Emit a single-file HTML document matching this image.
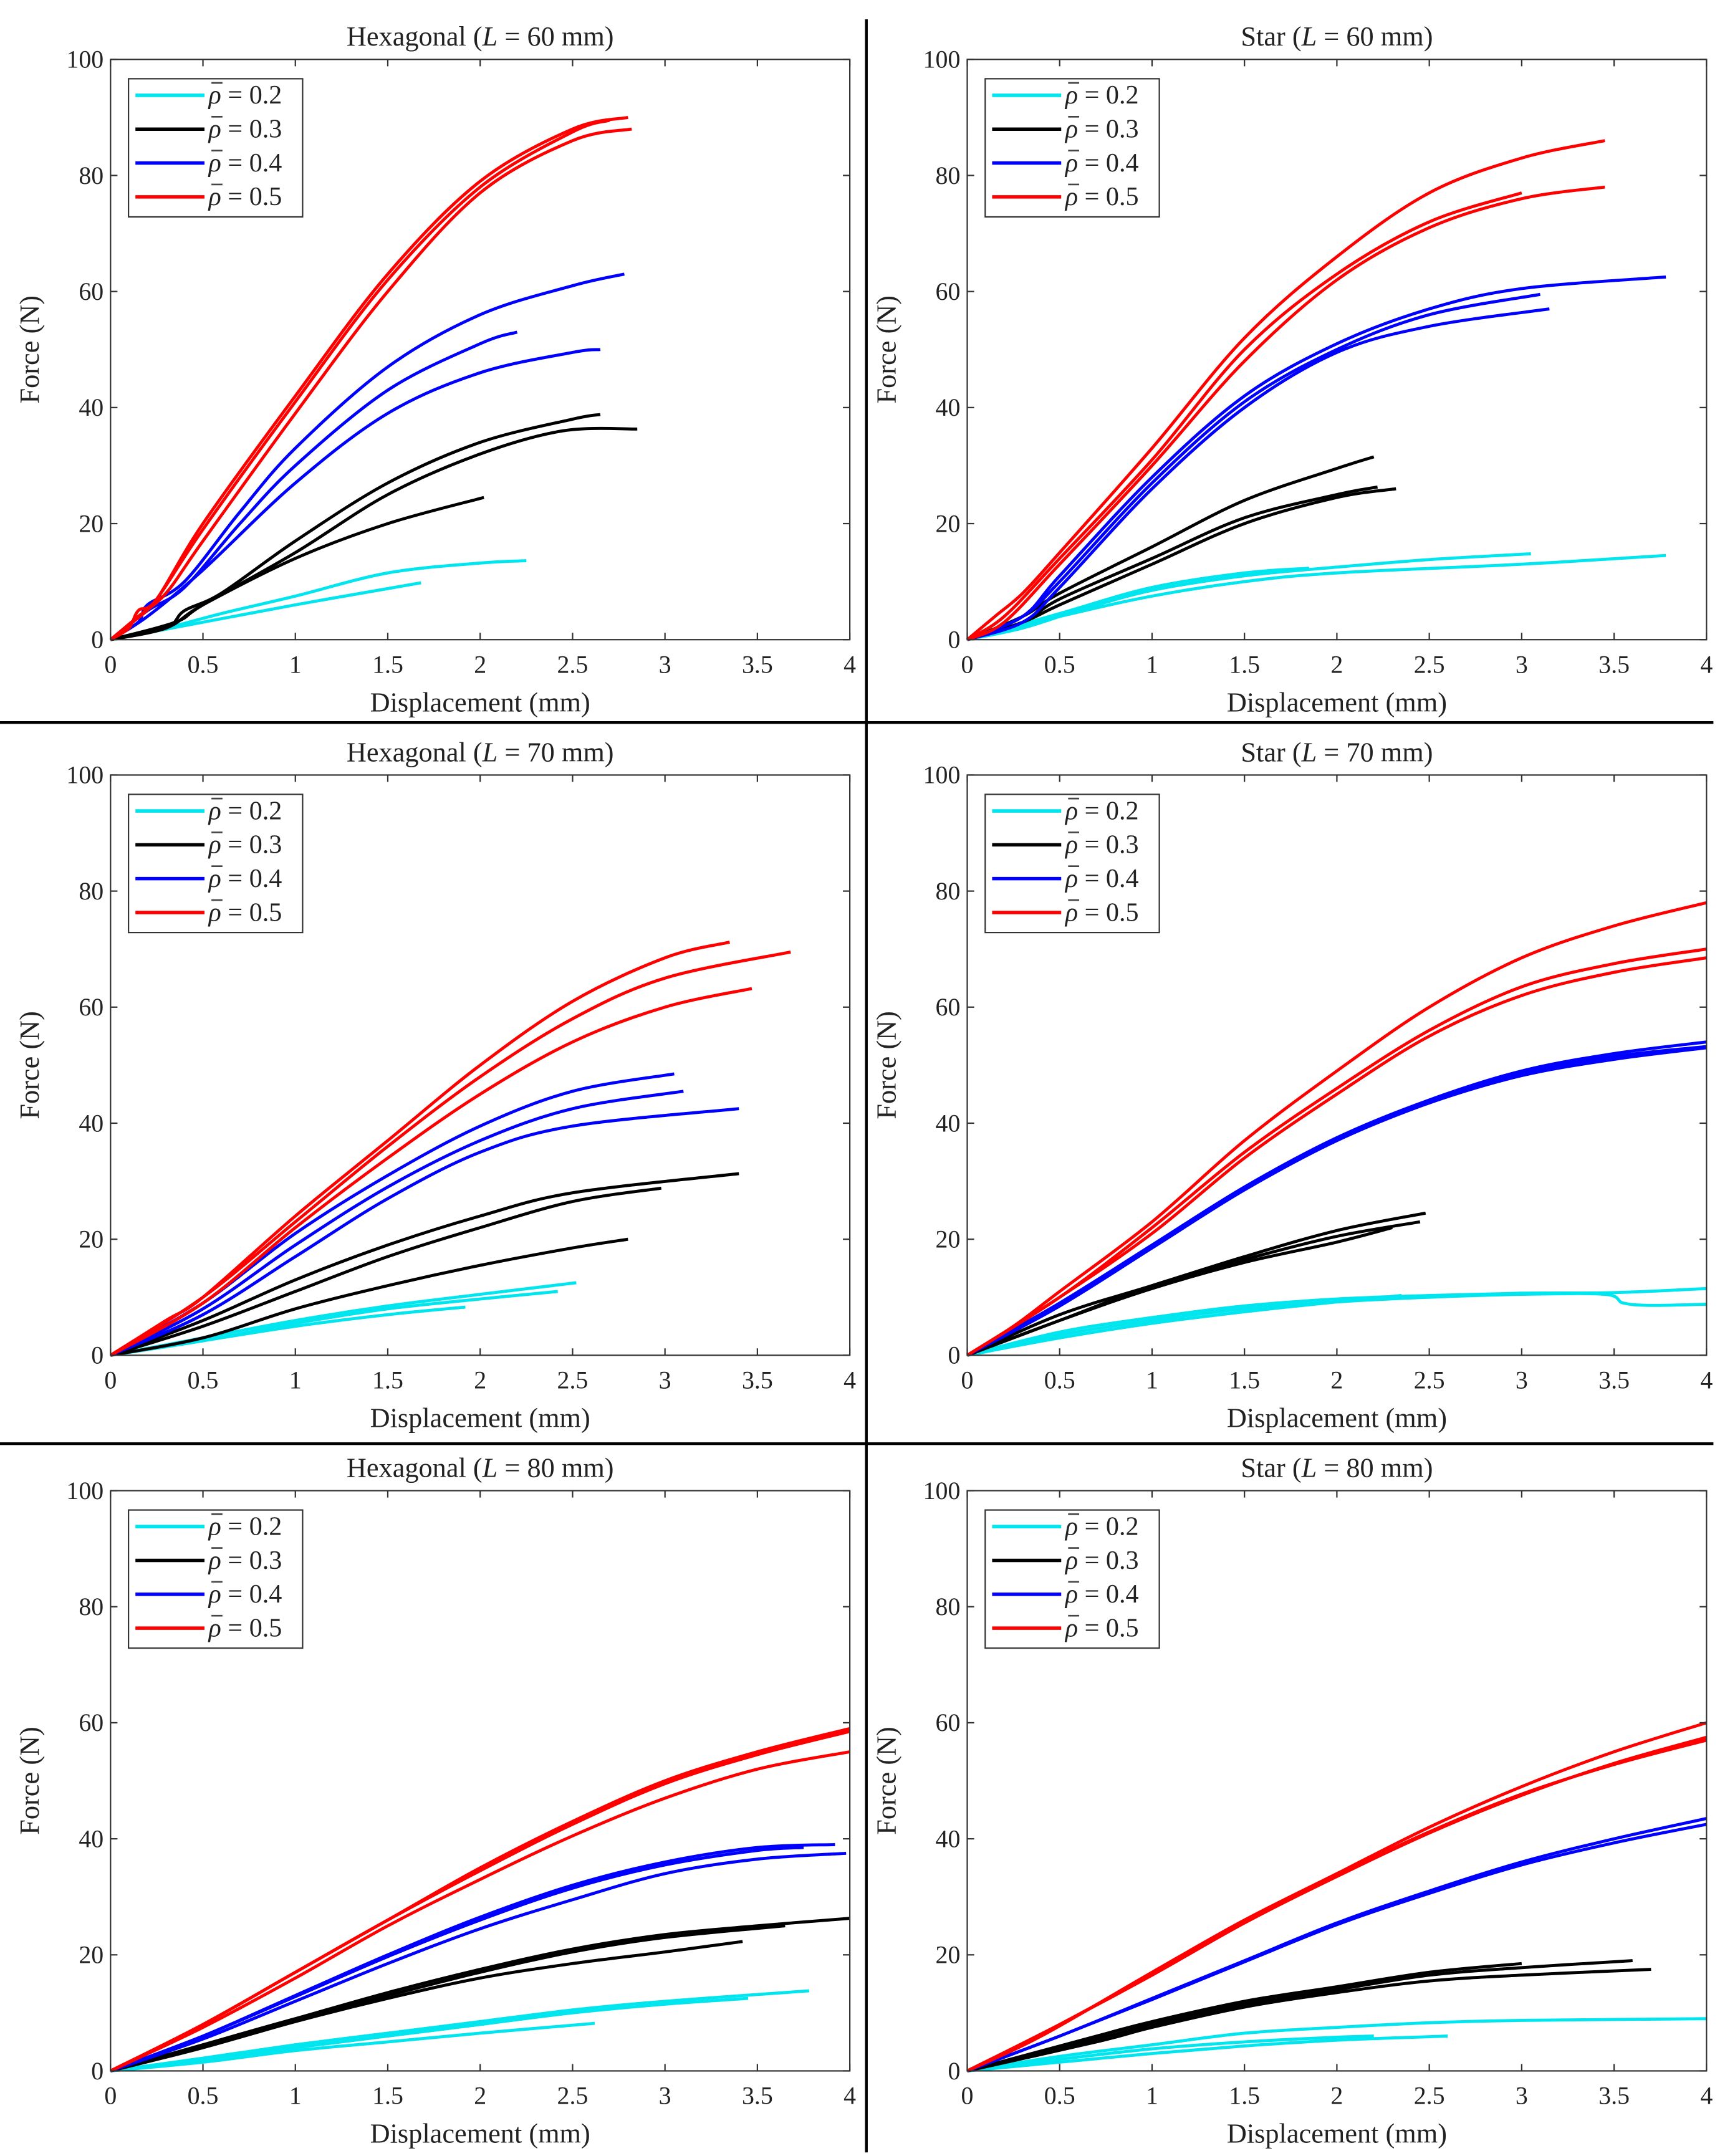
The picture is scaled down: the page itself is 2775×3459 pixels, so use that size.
<!DOCTYPE html>
<html><head><meta charset="utf-8">
<style>
html,body{margin:0;padding:0;background:#fff;}
svg{display:block;}
text{font-family:"Liberation Serif","DejaVu Serif",serif;fill:#222;}
</style></head>
<body>
<svg id="fig" width="2775" height="3459" viewBox="0 0 1252 1560.6" preserveAspectRatio="none" xmlns="http://www.w3.org/2000/svg">
<rect width="1252" height="1560.6" fill="#fff"/>
<line x1="627" y1="14" x2="627" y2="1558" stroke="#000" stroke-width="2"/>
<line x1="0" y1="523" x2="1240" y2="523" stroke="#000" stroke-width="2"/>
<line x1="0" y1="1045" x2="1240" y2="1045" stroke="#000" stroke-width="2"/>
</svg>
<script>
const xTicks = [0,0.5,1,1.5,2,2.5,3,3.5,4];
const xTickLabels = ["0","0.5","1","1.5","2","2.5","3","3.5","4"];
const yTicks = [0,20,40,60,80,100];
const yTickLabels = ["0","20","40","60","80","100"];
const seriesNames = ["0.2","0.3","0.4","0.5"];
const seriesColors = ["#00e5ee","#000000","#0000ff","#ff0000"];
const panelTitles = ["Hexagonal","Star","Hexagonal","Star","Hexagonal","Star"];
const panelLengths = ["60","60","70","70","80","80"];

const hex60 = [
 [[[0,0],[0.3,2],[0.6,4.5],[1,7.5],[1.5,11.5],[2,13.2],[2.25,13.6]],
  [[0,0],[0.5,3],[1,6],[1.5,8.8],[1.68,9.8]]],
 [[[0,0],[0.3,2],[0.4,5],[0.6,8],[1,17],[1.5,27],[2,34],[2.5,38],[2.65,38.8]],
  [[0,0],[0.35,3],[0.5,6],[1,15],[1.5,25],[2,32],[2.45,36],[2.85,36.3]],
  [[0,0],[0.3,2],[0.5,6],[1,14],[1.5,20],[2.02,24.5]]],
 [[[0,0],[0.15,3],[0.2,6],[0.4,10],[0.7,22],[1,33],[1.5,47],[2,56],[2.5,61],[2.78,63]],
  [[0,0],[0.2,5],[0.4,9],[0.7,20],[1,30],[1.5,43],[2,51],[2.2,53]],
  [[0,0],[0.2,4],[0.5,12],[1,27],[1.5,39],[2,46],[2.5,49.5],[2.65,50]]],
 [[[0,0],[0.1,2],[0.15,5],[0.25,7],[0.5,20],[1,42],[1.5,63],[2,79],[2.5,88],[2.8,90]],
  [[0,0],[0.12,3],[0.25,7],[0.5,19],[1,41],[1.5,62],[2,78],[2.5,87.5],[2.7,89.5]],
  [[0,0],[0.15,4],[0.3,8],[0.5,17],[1,39],[1.5,60],[2,77],[2.5,86],[2.82,88]]]
];
const star60 = [
 [[[0,0],[0.3,2],[0.6,5],[1,8.5],[1.5,11],[2,12.5],[2.5,13.8],[3.05,14.8]],
  [[0,0],[0.5,4],[1,7.5],[1.5,10],[2,11.5],[3,13],[3.78,14.5]],
  [[0,0],[0.5,4.5],[1,9],[1.5,11.5],[1.85,12.3]]],
 [[[0,0],[0.3,4],[0.5,8],[1,16],[1.5,24],[2,29.5],[2.2,31.5]],
  [[0,0],[0.3,3],[0.5,7],[1,14],[1.5,21],[2,25],[2.22,26.3]],
  [[0,0],[0.3,3],[0.5,6],[1,13],[1.5,20],[2,24.5],[2.32,26]]],
 [[[0,0],[0.3,4],[0.5,11],[1,28],[1.5,42],[2,51],[2.5,57],[3,60.5],[3.78,62.5]],
  [[0,0],[0.3,4],[0.5,10],[1,27],[1.5,41],[2,50],[2.5,56],[3.1,59.5]],
  [[0,0],[0.3,3],[0.5,9],[1,26],[1.5,40],[2,49.5],[2.5,54],[3.15,57]]],
 [[[0,0],[0.15,4],[0.3,8],[0.5,15],[1,33],[1.5,52],[2,66],[2.5,77],[3,83],[3.45,86]],
  [[0,0],[0.2,4],[0.5,14],[1,31],[1.5,50],[2,63],[2.5,72],[3,77]],
  [[0,0],[0.2,3],[0.5,13],[1,30],[1.5,48],[2,62],[2.5,71],[3,76],[3.45,78]]]
];
const hex70 = [
 [[[0,0],[0.5,3],[1,6],[1.5,8.5],[2,10.5],[2.52,12.5]],
  [[0,0],[0.5,2.5],[1,5.5],[1.5,8],[2,9.7],[2.42,11]],
  [[0,0],[0.5,2.5],[1,5],[1.5,7],[1.92,8.3]]],
 [[[0,0],[0.5,6],[1,13],[1.5,19],[2,24],[2.5,28],[3.4,31.3]],
  [[0,0],[0.5,5],[1,11],[1.5,17],[2,22],[2.5,26.5],[2.98,28.8]],
  [[0,0],[0.5,3],[1,8],[1.5,12],[2,15.5],[2.5,18.5],[2.8,20]]],
 [[[0,0],[0.5,9],[1,21],[1.5,31],[2,39.5],[2.5,45.5],[3.05,48.5]],
  [[0,0],[0.5,8],[1,19],[1.5,29],[2,37],[2.5,42.5],[3.1,45.5]],
  [[0,0],[0.5,7],[1,17],[1.5,27],[2,35],[2.5,39.5],[3.4,42.5]]],
 [[[0,0],[0.3,6],[0.5,10],[1,24],[1.5,37],[2,50],[2.5,61],[3,68.5],[3.35,71.2]],
  [[0,0],[0.5,10],[1,23],[1.5,36],[2,48],[2.5,58],[3,65],[3.68,69.5]],
  [[0,0],[0.5,9],[1,22],[1.5,34],[2,45],[2.5,54],[3,60],[3.47,63.2]]]
];
const star70 = [
 [[[0,0],[0.5,4],[1,6.5],[1.5,8.5],[2,9.7],[2.5,10.3],[3,10.7],[3.5,10.8],[4,11.5]],
  [[0,0],[0.5,3.5],[1,6],[1.5,8],[2,9.2],[2.5,10],[3,10.5],[3.45,10.5],[3.55,9],[3.7,8.6],[4,8.8]],
  [[0,0],[0.5,3],[1,5.5],[1.5,7.5],[2,9.2],[2.35,10.3]]],
 [[[0,0],[0.5,7],[1,12],[1.5,17],[2,21.5],[2.48,24.5]],
  [[0,0],[0.5,6],[1,12],[1.5,16.5],[2,20.5],[2.45,23]],
  [[0,0],[0.5,6],[1,11.5],[1.5,16],[2,19.5],[2.3,22]]],
 [[[0,0],[0.5,9],[1,19],[1.5,29],[2,37.5],[2.5,44],[3,49],[3.5,52],[4,54]],
  [[0,0],[0.5,8.5],[1,18.5],[1.5,28.5],[2,37],[2.5,43.5],[3,48.5],[3.5,51.5],[4,53.2]],
  [[0,0],[0.5,8.5],[1,18.8],[1.5,28.8],[2,37.2],[2.5,43.5],[3,48.2],[3.5,51],[4,53]]],
 [[[0,0],[0.25,5],[0.5,11],[1,23],[1.5,37],[2,49],[2.5,60],[3,68.5],[3.5,74],[4,78]],
  [[0,0],[0.5,10],[1,22],[1.5,35],[2,46],[2.5,56],[3,63.5],[3.5,67.5],[4,70]],
  [[0,0],[0.5,10],[1,21],[1.5,34],[2,45],[2.5,55],[3,62],[3.5,66],[4,68.5]]]
];
const hex80 = [
 [[[0,0],[0.5,2.2],[1,4.5],[1.5,6.5],[2,8.5],[2.5,10.5],[3,12],[3.78,13.8]],
  [[0,0],[0.5,2],[1,4],[1.5,6],[2,8],[2.5,10],[3,11.5],[3.45,12.5]],
  [[0,0],[0.5,1.5],[1,3.5],[1.5,5],[2,6.5],[2.62,8.2]]],
 [[[0,0],[0.5,4.5],[1,9],[1.5,13.5],[2,17.5],[2.5,21],[3,23.5],[3.5,25],[4,26.3]],
  [[0,0],[0.5,4.5],[1,9],[1.5,13],[2,17],[2.5,20.5],[3,23],[3.65,25]],
  [[0,0],[0.5,4],[1,8.5],[1.5,12.5],[2,16],[2.5,18.5],[3,20.5],[3.42,22.3]]],
 [[[0,0],[0.5,6],[1,13],[1.5,20],[2,26.5],[2.5,32],[3,36],[3.5,38.5],[3.92,39]],
  [[0,0],[0.5,6],[1,12.8],[1.5,19.7],[2,26],[2.5,31.5],[3,35.5],[3.5,38],[3.75,38.5]],
  [[0,0],[0.5,5.5],[1,12],[1.5,18.5],[2,24.5],[2.5,29.5],[3,34],[3.5,36.5],[3.98,37.5]]],
 [[[0,0],[0.5,8],[1,17],[1.5,26],[2,35],[2.5,43],[3,50],[3.5,55],[4,59]],
  [[0,0],[0.5,8],[1,17],[1.5,26],[2,34.5],[2.5,42.5],[3,49.5],[3.5,54.5],[4,58.5]],
  [[0,0],[0.5,7.5],[1,16],[1.5,25],[2,33],[2.5,40.5],[3,47],[3.5,52],[4,55]]]
];
const star80 = [
 [[[0,0],[0.5,2.5],[1,4.5],[1.5,6.5],[2,7.5],[2.5,8.3],[3,8.7],[4,9]],
  [[0,0],[0.5,1.5],[1,3],[1.5,4.3],[2,5.3],[2.6,6]],
  [[0,0],[0.5,2],[1,3.8],[1.5,5],[2,5.8],[2.2,6]]],
 [[[0,0],[0.7,6],[1,8.5],[1.5,12],[2,14.5],[2.5,17],[3,18.5]],
  [[0,0],[0.7,5.5],[1,8],[1.5,11.5],[2,14],[2.5,16.5],[3,17.8],[3.6,19]],
  [[0,0],[0.7,5],[1,7.5],[1.5,11],[2,13.5],[2.5,15.5],[3,16.5],[3.7,17.5]]],
 [[[0,0],[0.5,6],[1,12.5],[1.5,19],[2,25.5],[2.5,31],[3,36],[3.5,40],[4,43.5]],
  [[0,0],[0.5,6],[1,12.3],[1.5,18.8],[2,25.2],[2.5,30.6],[3,35.5],[3.5,39.3],[4,42.5]]],
 [[[0,0],[0.4,6],[1,17],[1.5,26],[2,34],[2.5,42],[3,49],[3.5,55],[4,60]],
  [[0,0],[0.5,8],[1,16.5],[1.5,25.5],[2,33.5],[2.5,41],[3,47.5],[3.5,53],[4,57.5]],
  [[0,0],[0.5,8],[1,16.7],[1.5,25.7],[2,33.7],[2.5,41.2],[3,47.7],[3.5,52.8],[4,57]]]
];
const panelData = [hex60, star60, hex70, star70, hex80, star80];

const NS = "http://www.w3.org/2000/svg";
const svg = document.getElementById("fig");
function mk(tag, attrs, parent) {
  const e = document.createElementNS(NS, tag);
  for (const k in attrs) e.setAttribute(k, attrs[k]);
  parent.appendChild(e);
  return e;
}
const lefts = [80, 700];
const tops = [43, 561, 1079];
const W = 535, H = 420;

function smoothPath(pts) {
  let d = "M" + pts[0][0].toFixed(2) + "," + pts[0][1].toFixed(2);
  for (let i = 0; i < pts.length - 1; i++) {
    const p0 = pts[Math.max(0, i - 1)], p1 = pts[i], p2 = pts[i + 1], p3 = pts[Math.min(pts.length - 1, i + 2)];
    const c1x = p1[0] + (p2[0] - p0[0]) / 6, c1y = p1[1] + (p2[1] - p0[1]) / 6;
    const c2x = p2[0] - (p3[0] - p1[0]) / 6, c2y = p2[1] - (p3[1] - p1[1]) / 6;
    d += " C" + c1x.toFixed(2) + "," + c1y.toFixed(2) + " " + c2x.toFixed(2) + "," + c2y.toFixed(2) + " " + p2[0].toFixed(2) + "," + p2[1].toFixed(2);
  }
  return d;
}

panelData.forEach((pd, pi) => {
  const L = lefts[pi % 2], T = tops[Math.floor(pi / 2)];
  const xs = v => L + v / 4 * W;
  const ys = v => T + H - v / 100 * H;
  const g = mk("g", {}, svg);
  
  
  const title = mk("text", {x: L + W / 2, y: T - 10, "text-anchor": "middle", "font-size": 20}, g);
  
  
  title.innerHTML = panelTitles[pi] + ' (<tspan font-style="italic">L</tspan> = ' + panelLengths[pi] + ' mm)';
  pd.forEach((group, si) => {
    group.forEach((curve, ci) => {
      const pts = curve.map(p => [xs(p[0]), ys(p[1])]);
      const path = mk("path", {d: smoothPath(pts), fill: "none", stroke: seriesColors[si], "stroke-width": 2.2, "stroke-linejoin": "round"}, g);
      
      
    });
  });
  const box = mk("rect", {x: L, y: T, width: W, height: H, fill: "none", stroke: "#333", "stroke-width": 1}, g);
  
  
  xTicks.forEach((t, i) => {
    mk("line", {x1: xs(t), y1: T + H, x2: xs(t), y2: T + H - 5, stroke: "#333", "stroke-width": 1}, g);
    mk("line", {x1: xs(t), y1: T, x2: xs(t), y2: T + 5, stroke: "#333", "stroke-width": 1}, g);
    const tl = mk("text", {x: xs(t), y: T + H + 24, "text-anchor": "middle", "font-size": 18}, g);
    
    
    tl.textContent = xTickLabels[i];
  });
  yTicks.forEach((t, i) => {
    mk("line", {x1: L, y1: ys(t), x2: L + 5, y2: ys(t), stroke: "#333", "stroke-width": 1}, g);
    mk("line", {x1: L + W, y1: ys(t), x2: L + W - 5, y2: ys(t), stroke: "#333", "stroke-width": 1}, g);
    const tl = mk("text", {x: L - 5, y: ys(t) + 6, "text-anchor": "end", "font-size": 18}, g);
    
    
    tl.textContent = yTickLabels[i];
  });
  const xl = mk("text", {x: L + W / 2, y: T + H + 52, "text-anchor": "middle", "font-size": 20}, g);
  
  
  xl.textContent = "Displacement (mm)";
  const yl = mk("text", {x: 0, y: 0, "text-anchor": "middle", "font-size": 20, transform: "translate(" + (L - 52) + "," + (T + H / 2) + ") rotate(-90)"}, g);
  
  
  yl.textContent = "Force (N)";
  const lg = mk("g", {}, g);
  
  
  mk("rect", {x: L + 13, y: T + 14, width: 126, height: 100, fill: "#fff", stroke: "#333", "stroke-width": 1}, lg);
  seriesNames.forEach((n, si) => {
    const yy = T + 26 + si * 24.5;
    const le = mk("g", {}, lg);
    
    
    mk("line", {x1: L + 18, y1: yy, x2: L + 68, y2: yy, stroke: seriesColors[si], "stroke-width": 2.5}, le);
    mk("line", {x1: L + 73, y1: yy - 9, x2: L + 81, y2: yy - 9, stroke: "#444", "stroke-width": 1.2}, le);
    const t = mk("text", {x: L + 71, y: yy + 6, "font-size": 19}, le);
    t.innerHTML = '<tspan font-style="italic">ρ</tspan> = ' + n;
  });
});
</script>
</body></html>
